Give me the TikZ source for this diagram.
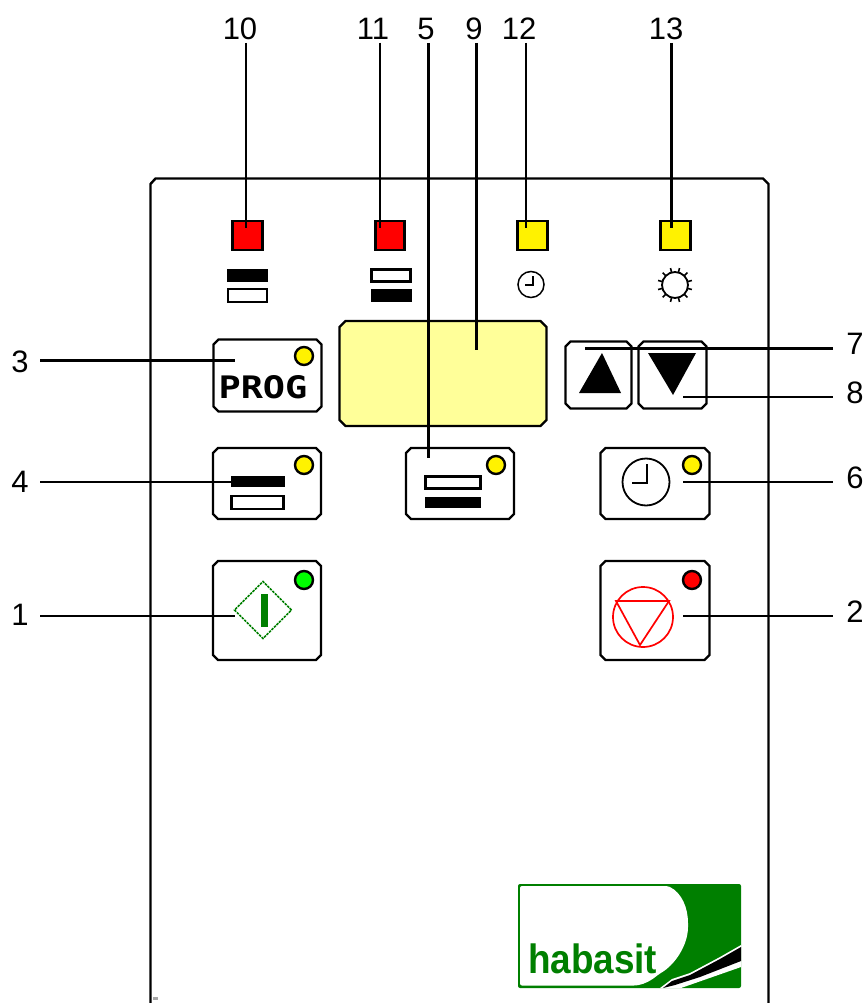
\documentclass[tikz,border=0pt]{standalone}
\usepackage{fontspec}
\setmainfont{Liberation Sans}
\newfontfamily\logofont[FakeStretch=0.9]{Liberation Sans}
\newfontfamily\progfont[FakeStretch=1.19]{DejaVu Sans Mono}
\usetikzlibrary{shapes.geometric,calc}
\definecolor{dispyellow}{HTML}{FFFF99}
\definecolor{hgreen}{HTML}{007F00}
\newcommand{\chamfbox}[3]{%
  \draw[line width=2.4pt,draw=black,fill=#3]
    ($(#1.north west)+(#2,0)$) -- ($(#1.north east)+(-#2,0)$) -- ($(#1.north east)+(0,#2)$)
    -- ($(#1.south east)+(0,-#2)$) -- ($(#1.south east)+(-#2,0)$) -- ($(#1.south west)+(#2,0)$)
    -- ($(#1.south west)+(0,-#2)$) -- ($(#1.north west)+(0,#2)$) -- cycle;}
\tikzset{
  x=1pt,y=-1pt,
  every node/.style={inner sep=0pt,outer sep=0pt},
  panel/.style={line width=2.4pt,black},
  btn/.style={rectangle},
  led/.style={circle,draw=black,line width=2.4pt,minimum size=18pt},
  lamp/.style={rectangle,draw=black,line width=2.4pt,minimum size=29pt},
  barblack/.style={rectangle,fill=black},
  barwhite/.style={rectangle,draw=black,line width=2.2pt,fill=white},
  leader/.style={line width=2.3pt,black},
  num/.style={font=\fontsize{31}{31}\selectfont,text=black},
  icon/.style={line width=1.8pt,black}
}
\begin{document}
\begin{tikzpicture}
\useasboundingbox (0,0) rectangle (866,1003);
% panel outline
\draw[panel] (150.5,1003) -- (150.5,184) -- (155.5,178.5) -- (763,178.5) -- (768.5,184) -- (768.5,1003);
\fill[gray!70] (153,997) rectangle (158,1000);
% lamps
\node[lamp,fill=red,minimum width=30pt] (lamp10) at (247.5,235.5) {};
\node[lamp,fill=red] (lamp11) at (390,235.5) {};
\node[lamp,fill=yellow,minimum width=30pt] (lamp12) at (532.5,235.5) {};
\node[lamp,fill=yellow,minimum width=30pt] (lamp13) at (675.5,235.5) {};
% lamp icons
\node[barblack,minimum width=41pt,minimum height=13pt] (ia1) at (247.5,275) {};
\node[barwhite,minimum width=39pt,minimum height=13pt] (ia2) at (247.5,295.5) {};
\node[barwhite,minimum width=39pt,minimum height=12pt] (ib1) at (391,275.5) {};
\node[barblack,minimum width=41pt,minimum height=13pt] (ib2) at (391,295.5) {};
\node[circle,draw=black,line width=1.5pt,minimum size=26pt,fill=white] (clk12) at (531,284.5) {};
\draw[icon] (533,276) -- (533,285) -- (525,285);
\node[circle,draw=black,line width=1.8pt,minimum size=26pt,fill=white] (sun) at (675,285) {};
\foreach \a in {15,45,...,345}{
  \draw[black,line width=1.6pt] (sun.center) ++({\a}:12.5pt) -- ++({\a}:5pt);
}
% PROG button
\node[btn,minimum width=108pt,minimum height=72pt] (bprog) at (267.5,375.5) {};
\chamfbox{bprog}{5}{white}
\node[led,fill=yellow] (ledprog) at (304,356) {};
\node[font=\progfont\bfseries\fontsize{31}{31}\selectfont,text=black] (tprog) at (263,387) {PROG};
% display
\node[btn,minimum width=207pt,minimum height=105pt] (disp) at (443,373.5) {};
\chamfbox{disp}{6}{dispyellow}
% arrows
\node[btn,minimum width=66pt,minimum height=67pt] (bup) at (598.5,375) {};
\chamfbox{bup}{5}{white}
\node[btn,minimum width=68pt,minimum height=67pt] (bdown) at (672.5,375) {};
\chamfbox{bdown}{5}{white}
\fill[black] (602,353) -- (621,393) -- (579,393) -- cycle;
\fill[black] (648,353) -- (696,353) -- (673,395) -- cycle;
% row 2
\node[btn,minimum width=108pt,minimum height=71pt] (b4) at (267,483.5) {};
\chamfbox{b4}{5}{white}
\node[led,fill=yellow] (led4) at (304,465) {};
\node[barblack,minimum width=54pt,minimum height=11pt] (b4a) at (257.5,481) {};
\node[barwhite,minimum width=52pt,minimum height=13pt] (b4b) at (257.5,502.5) {};
\node[btn,minimum width=108pt,minimum height=71pt] (b5) at (460,483.5) {};
\chamfbox{b5}{5}{white}
\node[led,fill=yellow] (led5) at (496,465) {};
\node[barwhite,minimum width=55pt,minimum height=12pt] (b5a) at (453,482.5) {};
\node[barblack,minimum width=56pt,minimum height=11pt] (b5b) at (453,502.5) {};
\node[btn,minimum width=109pt,minimum height=71pt] (b6) at (655,483.5) {};
\chamfbox{b6}{5}{white}
\node[led,fill=yellow] (led6) at (692,465) {};
\node[circle,draw=black,line width=1.8pt,minimum size=47pt] (clk6) at (646,482) {};
\draw[icon] (647,464) -- (647,483) -- (632,483);
% row 3
\node[btn,minimum width=108pt,minimum height=99pt] (b1) at (267,610.5) {};
\chamfbox{b1}{5}{white}
\node[led,fill=green] (led1) at (304,580) {};
\node[diamond,draw=hgreen,line width=1.5pt,dash pattern=on 2.5pt off 1pt,minimum width=57pt,minimum height=57pt] (dia) at (263,610) {};
\node[rectangle,fill=hgreen,minimum width=7pt,minimum height=33pt] (dbar) at (264.5,610.5) {};
\node[btn,minimum width=109pt,minimum height=99pt] (b2) at (655,610.5) {};
\chamfbox{b2}{5}{white}
\node[led,fill=red] (led2) at (692,580) {};
\node[circle,draw=red,line width=1.7pt,minimum size=60pt] (stopc) at (643,617) {};
\draw[red,line width=1.7pt] (616,601) -- (669,601) -- (640,645) -- cycle;
% logo
\fill[hgreen,rounded corners=2pt] (518,884) rectangle (741,988);
\fill[white,rounded corners=2pt] (520,886) -- (668,886)
  .. controls (682,893) and (688,908) .. (688,925)
  .. controls (688,945) and (675,965) .. (659,974)
  .. controls (652,980) and (645,984) .. (636,985.5)
  -- (520,985.5) -- cycle;
\fill[white] (660,988) -- (672,979) -- (690,973) -- (720,957) -- (741,945) -- (741,967) -- (681,988) -- cycle;
\fill[black] (663,988) -- (672,981) -- (690,975) -- (720,959) -- (741,947) -- (741,961) -- (700,977) -- (675,985) -- cycle;
\node[font=\logofont\bfseries\fontsize{41}{41}\selectfont,text=hgreen,anchor=base west] (logo) at (528,973) {habasit};
% numbers
\node[num] (l10) at (240,29) {10};
\node[num] (l11) at (373,29) {11};
\node[num] (l5) at (426,29) {5};
\node[num] (l9) at (474,29) {9};
\node[num] (l12) at (519,29) {12};
\node[num] (l13) at (666,29) {13};
\node[num] (l3) at (20,362) {3};
\node[num] (l4) at (20,482) {4};
\node[num] (l1) at (20,615) {1};
\node[num] (l7) at (855,344) {7};
\node[num] (l8) at (855,393) {8};
\node[num] (l6) at (855,478) {6};
\node[num] (l2) at (855,612) {2};
% leader ends
\coordinate (e10) at (246,228);
\coordinate (e11) at (380,228);
\coordinate (e5) at (428.5,458);
\coordinate (e9) at (476.5,350);
\coordinate (e12) at (526,228);
\coordinate (e13) at (671.5,228);
\coordinate (e3) at (235,360.5);
\coordinate (e4) at (231,482);
\coordinate (e1) at (235,616);
\coordinate (e7) at (585,348.5);
\coordinate (e8) at (683,397);
\coordinate (e6) at (683,482);
\coordinate (e2) at (683,616);
\foreach \n in {10,11,5,9,12,13}{
  \draw[leader] ($(l\n.south -| e\n)+(0,3)$) -- (e\n);
}
\foreach \n in {3,4,1}{
  \draw[leader] (40,0 |- e\n) -- (e\n);
}
\foreach \n in {7,8,6,2}{
  \draw[leader] (e\n) -- (833,0 |- e\n);
}
\end{tikzpicture}
\end{document}
